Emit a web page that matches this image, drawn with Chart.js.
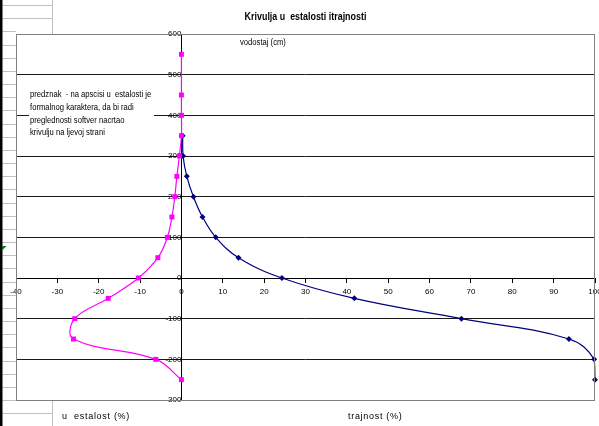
<!DOCTYPE html>
<html>
<head>
<meta charset="utf-8">
<script src="https://cdn.jsdelivr.net/npm/chart.js@4.4.1/dist/chart.umd.min.js"></script>
<style>
  html, body { margin: 0; padding: 0; background: #fff; }
  #wrap { width: 599px; height: 426px; }
</style>
</head>
<body>
<div id="wrap"><canvas id="krivulja" width="599" height="426"></canvas></div>
<script>
// vodostaj (cm) -> trajnost (%)
const vodostajT = [350, 300, 250, 200, 150, 100, 50, 0, -50, -100, -150, -200, -250];
const trajnost  = [0.3, 0.4, 1.3, 2.9, 5.1, 8.3, 13.8, 24.3, 41.8, 67.7, 93.7, 99.8, 100];

// vodostaj (cm) -> ucestalost (%), predznak je samo radi crtanja lijevo
const vodostajU  = [550, 450, 400, 350, 300, 250, 200, 150, 100, 50, 0, -50, -100, -150, -200, -250];
const ucestalost = [0, 0, 0, 0, -0.5, -1.1, -1.6, -2.3, -3.4, -5.7, -10.4, -17.7, -25.8, -26.1, -6.2, 0];

const naslov = 'Krivulja u  estalosti itrajnosti';
const napomena = [
    'predznak  - na apscisi u  estalosti je',
    'formalnog karaktera, da bi radi',
    'preglednosti softver nacrtao',
    'krivulju na ljevoj strani'
];
const oznakaY = 'vodostaj (cm)';
const oznakaU = 'u  estalost (%)';
const oznakaT = 'trajnost (%)';

const SANS = '"Liberation Sans", Arial, sans-serif';
const tickFont = { family: SANS, size: 8 };

// tekst malo stisnut vodoravno (kao u Excelu)
function stisnutTekst(ctx, t, x, y, font, sx, align) {
    ctx.save();
    ctx.font = font;
    ctx.textBaseline = 'middle';
    ctx.textAlign = align || 'left';
    ctx.translate(x, y);
    ctx.scale(sx, 1);
    ctx.fillText(t, 0, 0);
    ctx.restore();
}

const listPlugin = {
    id: 'list',
    beforeDraw(chart) {
        const { ctx, width, height, chartArea: a } = chart;
        ctx.save();
        ctx.fillStyle = '#fff';
        ctx.fillRect(0, 0, width, height);
        // retci tablice lijevo od grafikona
        ctx.strokeStyle = '#c0c0c0';
        ctx.lineWidth = 1;
        ctx.beginPath();
        for (let k = 0; k < 32; k++) {
            const y = Math.round(5 + 13.167 * k) + 0.5;
            const kraj = (k < 2 || k === 31) ? 52 : a.left;
            ctx.moveTo(0, y);
            ctx.lineTo(kraj, y);
        }
        ctx.moveTo(52.5, 0); ctx.lineTo(52.5, a.top);
        ctx.moveTo(52.5, a.bottom); ctx.lineTo(52.5, height);
        ctx.stroke();
        ctx.fillStyle = '#000';
        ctx.fillRect(0, 0, 2.5, height);
        ctx.fillStyle = '#008000';
        ctx.beginPath();
        ctx.moveTo(2, 246); ctx.lineTo(6.5, 246); ctx.lineTo(2, 250.5);
        ctx.fill();
        ctx.restore();
    },
    afterDraw(chart) {
        const { ctx, chartArea: a } = chart;
        ctx.save();
        // okvir podrucja crtanja
        ctx.strokeStyle = '#808080';
        ctx.lineWidth = 1;
        ctx.strokeRect(a.left + 0.5, a.top + 0.5, a.right - a.left - 1, a.bottom - a.top);

        ctx.fillStyle = '#000';
        stisnutTekst(ctx, naslov, (a.left + a.right) / 2, 17, 'bold 11px ' + SANS, 0.81, 'center');

        // napomena u bijelom okviru
        ctx.fillStyle = '#fff';
        ctx.fillRect(29, 87, 125, 52);
        ctx.fillStyle = '#000';
        napomena.forEach((t, i) => stisnutTekst(ctx, t, 30, 95 + i * 12.6, '9px ' + SANS, 0.85));

        stisnutTekst(ctx, oznakaY, 240, 43, '8.5px ' + SANS, 0.9);

        ctx.font = '9px ' + SANS;
        ctx.textBaseline = 'middle';
        ctx.letterSpacing = '0.7px';
        ctx.fillText(oznakaU, 62, 417);
        ctx.fillText(oznakaT, 348, 417);
        ctx.restore();
    }
};

new Chart(document.getElementById('krivulja'), {
    type: 'scatter',
    data: {
        datasets: [
            {
                label: 'ucestalost',
                data: ucestalost.map((x, i) => ({ x: x, y: vodostajU[i] })),
                showLine: true,
                borderColor: '#ff00ff',
                backgroundColor: '#ff00ff',
                borderWidth: 1.2,
                tension: 0.4,
                pointStyle: 'rect',
                pointRadius: 3.5,
                pointBorderWidth: 0,
                clip: false
            },
            {
                label: 'trajnost',
                data: trajnost.map((x, i) => ({ x: x, y: vodostajT[i] })),
                showLine: true,
                borderColor: '#000080',
                backgroundColor: '#000080',
                borderWidth: 1.2,
                tension: 0.4,
                pointStyle: 'rectRot',
                pointRadius: 3,
                pointBorderWidth: 0,
                clip: false
            }
        ]
    },
    options: {
        responsive: false,
        animation: false,
        devicePixelRatio: 1,
        layout: { padding: { left: 16, right: 0, top: 34, bottom: 26 } },
        plugins: {
            legend: { display: false },
            tooltip: { enabled: false },
            title: { display: false }
        },
        scales: {
            x: {
                type: 'linear',
                position: { y: 0 },
                min: -40,
                max: 100,
                afterFit(s) { s.paddingLeft = 0; s.paddingRight = 0; },
                ticks: { stepSize: 10, autoSkip: false, maxRotation: 0, color: '#000', font: tickFont, padding: 5 },
                grid: { drawOnChartArea: false, drawTicks: true, tickLength: 4, color: '#000' },
                border: { display: true, color: '#000', width: 1 }
            },
            y: {
                type: 'linear',
                position: { x: 0 },
                min: -300,
                max: 600,
                afterFit(s) { s.paddingTop = 0; s.paddingBottom = 0; },
                ticks: { stepSize: 100, autoSkip: false, color: '#000', font: tickFont, padding: 2 },
                grid: { color: '#1a1a1a', drawTicks: true, tickLength: 4 },
                border: { display: true, color: '#000', width: 1 }
            }
        }
    },
    plugins: [listPlugin]
});
</script>
</body>
</html>
